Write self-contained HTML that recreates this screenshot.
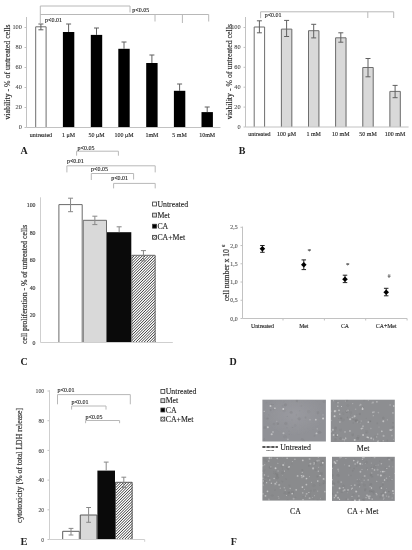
<!DOCTYPE html>
<html><head><meta charset="utf-8"><style>
html,body{margin:0;padding:0;background:#fff;width:412px;height:550px;overflow:hidden}
svg{display:block;font-family:"Liberation Serif",serif;filter:blur(0.45px)}
</style></head><body>
<svg width="412" height="550" viewBox="0 0 412 550">
<defs>
<pattern id="hatch" patternUnits="userSpaceOnUse" width="1.75" height="4" patternTransform="rotate(45)">
<rect width="1.75" height="4" fill="#fff"/><rect x="0" y="0" width="0.85" height="4" fill="#2a2a2a"/></pattern>
<pattern id="hatch2" patternUnits="userSpaceOnUse" width="1.6" height="1.6" patternTransform="rotate(45)">
<rect width="1.6" height="1.6" fill="#fff"/><line x1="0" y1="0" x2="0" y2="1.6" stroke="#333" stroke-width="0.8"/></pattern>
<radialGradient id="glow"><stop offset="0" stop-color="#a0a0a6" stop-opacity="1"/><stop offset="1" stop-color="#a0a0a6" stop-opacity="0"/></radialGradient>
<filter id="soft" x="-5%" y="-5%" width="110%" height="110%"><feGaussianBlur stdDeviation="0.45"/></filter>
<clipPath id="h1"><rect x="131.3" y="255.3" width="24.3" height="87.19999999999999"/></clipPath><clipPath id="h2"><rect x="115.0" y="482.3" width="17.6" height="57.19999999999999"/></clipPath><clipPath id="c262399"><rect x="262.4" y="399.7" width="63.5" height="41.8"/></clipPath><clipPath id="c330399"><rect x="330.8" y="399.7" width="64.0" height="42.3"/></clipPath><clipPath id="c262456"><rect x="262.4" y="456.8" width="63.5" height="43.8"/></clipPath><clipPath id="c332456"><rect x="332.0" y="456.8" width="62.8" height="44.1"/></clipPath>
</defs>
<rect width="412" height="550" fill="#fff"/>
<line x1="24.5" y1="127.5" x2="26.5" y2="127.5" stroke="#c2c2c2" stroke-width="1"/>
<text x="21.9" y="129.3" font-size="6.3" text-anchor="end" font-weight="normal" fill="#505050" stroke="#505050" stroke-width="0.1" >0</text>
<line x1="24.5" y1="107.5" x2="26.5" y2="107.5" stroke="#c2c2c2" stroke-width="1"/>
<text x="21.9" y="109.3" font-size="6.3" text-anchor="end" font-weight="normal" fill="#505050" stroke="#505050" stroke-width="0.1" >20</text>
<line x1="24.5" y1="87.5" x2="26.5" y2="87.5" stroke="#c2c2c2" stroke-width="1"/>
<text x="21.9" y="89.3" font-size="6.3" text-anchor="end" font-weight="normal" fill="#505050" stroke="#505050" stroke-width="0.1" >40</text>
<line x1="24.5" y1="67.5" x2="26.5" y2="67.5" stroke="#c2c2c2" stroke-width="1"/>
<text x="21.9" y="69.3" font-size="6.3" text-anchor="end" font-weight="normal" fill="#505050" stroke="#505050" stroke-width="0.1" >60</text>
<line x1="24.5" y1="47.5" x2="26.5" y2="47.5" stroke="#c2c2c2" stroke-width="1"/>
<text x="21.9" y="49.3" font-size="6.3" text-anchor="end" font-weight="normal" fill="#505050" stroke="#505050" stroke-width="0.1" >80</text>
<line x1="24.5" y1="27.5" x2="26.5" y2="27.5" stroke="#c2c2c2" stroke-width="1"/>
<text x="21.9" y="29.3" font-size="6.3" text-anchor="end" font-weight="normal" fill="#505050" stroke="#505050" stroke-width="0.1" >100</text>
<text x="0" y="0" font-size="7.85" text-anchor="middle" font-weight="normal" fill="#2a2a2a" stroke="#2a2a2a" stroke-width="0.15" dominant-baseline="central" transform="translate(7.4,72.0) rotate(-90)">viability - % of untreated cells</text>
<rect x="35.2" y="26.8" width="11.4" height="100.7" fill="#fff"/>
<path d="M35.70 127.5 V26.80 H46.10 V127.5" fill="none" stroke="#6e6e6e" stroke-width="1"/>
<line x1="40.900000000000006" y1="24" x2="40.900000000000006" y2="29.8" stroke="#606060" stroke-width="1"/>
<line x1="38.400000000000006" y1="24" x2="43.400000000000006" y2="24" stroke="#606060" stroke-width="1"/>
<line x1="38.400000000000006" y1="29.8" x2="43.400000000000006" y2="29.8" stroke="#606060" stroke-width="1"/>
<text x="40.900000000000006" y="136.7" font-size="6" text-anchor="middle" font-weight="normal" fill="#222222" stroke="#222222" stroke-width="0.12" >untreated</text>
<rect x="62.9" y="32.0" width="11.4" height="95.5" fill="#000"/>
<line x1="68.6" y1="24" x2="68.6" y2="32.0" stroke="#606060" stroke-width="1"/>
<line x1="66.1" y1="24" x2="71.1" y2="24" stroke="#606060" stroke-width="1"/>
<text x="68.6" y="136.7" font-size="6" text-anchor="middle" font-weight="normal" fill="#222222" stroke="#222222" stroke-width="0.12" >1 &#956;M</text>
<rect x="90.8" y="34.9" width="11.4" height="92.6" fill="#000"/>
<line x1="96.5" y1="28" x2="96.5" y2="34.9" stroke="#606060" stroke-width="1"/>
<line x1="94.0" y1="28" x2="99.0" y2="28" stroke="#606060" stroke-width="1"/>
<text x="96.5" y="136.7" font-size="6" text-anchor="middle" font-weight="normal" fill="#222222" stroke="#222222" stroke-width="0.12" >50 &#956;M</text>
<rect x="118.3" y="48.8" width="11.4" height="78.7" fill="#000"/>
<line x1="124.0" y1="42" x2="124.0" y2="48.8" stroke="#606060" stroke-width="1"/>
<line x1="121.5" y1="42" x2="126.5" y2="42" stroke="#606060" stroke-width="1"/>
<text x="124.0" y="136.7" font-size="6" text-anchor="middle" font-weight="normal" fill="#222222" stroke="#222222" stroke-width="0.12" >100 &#956;M</text>
<rect x="146.2" y="63.0" width="11.4" height="64.5" fill="#000"/>
<line x1="151.89999999999998" y1="55" x2="151.89999999999998" y2="63.0" stroke="#606060" stroke-width="1"/>
<line x1="149.39999999999998" y1="55" x2="154.39999999999998" y2="55" stroke="#606060" stroke-width="1"/>
<text x="151.89999999999998" y="136.7" font-size="6" text-anchor="middle" font-weight="normal" fill="#222222" stroke="#222222" stroke-width="0.12" >1mM</text>
<rect x="173.9" y="90.8" width="11.4" height="36.7" fill="#000"/>
<line x1="179.6" y1="84" x2="179.6" y2="90.8" stroke="#606060" stroke-width="1"/>
<line x1="177.1" y1="84" x2="182.1" y2="84" stroke="#606060" stroke-width="1"/>
<text x="179.6" y="136.7" font-size="6" text-anchor="middle" font-weight="normal" fill="#222222" stroke="#222222" stroke-width="0.12" >5 mM</text>
<rect x="201.5" y="112.1" width="11.4" height="15.400000000000006" fill="#000"/>
<line x1="207.2" y1="107" x2="207.2" y2="112.1" stroke="#606060" stroke-width="1"/>
<line x1="204.7" y1="107" x2="209.7" y2="107" stroke="#606060" stroke-width="1"/>
<text x="207.2" y="136.7" font-size="6" text-anchor="middle" font-weight="normal" fill="#222222" stroke="#222222" stroke-width="0.12" >10mM</text>
<line x1="26.5" y1="17" x2="26.5" y2="127.5" stroke="#c2c2c2" stroke-width="1"/>
<line x1="26.5" y1="127.5" x2="220.5" y2="127.5" stroke="#c2c2c2" stroke-width="1"/>
<line x1="40.3" y1="6" x2="40.3" y2="23" stroke="#b8b8b8" stroke-width="1"/>
<line x1="40.3" y1="6" x2="130" y2="6" stroke="#b8b8b8" stroke-width="1"/>
<line x1="130" y1="6" x2="130" y2="12.4" stroke="#b8b8b8" stroke-width="1"/>
<line x1="40.3" y1="14.5" x2="208.7" y2="14.5" stroke="#b8b8b8" stroke-width="1"/>
<line x1="155" y1="14.5" x2="155" y2="21.5" stroke="#b8b8b8" stroke-width="1"/>
<line x1="182.4" y1="14.5" x2="182.4" y2="23" stroke="#b8b8b8" stroke-width="1"/>
<line x1="208.7" y1="14.5" x2="208.7" y2="21.5" stroke="#b8b8b8" stroke-width="1"/>
<text x="45" y="21.6" font-size="6" text-anchor="start" font-weight="normal" fill="#222222" stroke="#222222" stroke-width="0.12" >p&lt;0.01</text>
<text x="132.3" y="12.2" font-size="6" text-anchor="start" font-weight="normal" fill="#222222" stroke="#222222" stroke-width="0.12" >p&lt;0.05</text>
<text x="24.1" y="154.2" font-size="10" text-anchor="middle" font-weight="bold" fill="#222" >A</text>
<line x1="243.5" y1="127.0" x2="245.5" y2="127.0" stroke="#c2c2c2" stroke-width="1"/>
<text x="240.6" y="128.8" font-size="6.3" text-anchor="end" font-weight="normal" fill="#505050" stroke="#505050" stroke-width="0.1" >0</text>
<line x1="243.5" y1="107.1" x2="245.5" y2="107.1" stroke="#c2c2c2" stroke-width="1"/>
<text x="240.6" y="108.89999999999999" font-size="6.3" text-anchor="end" font-weight="normal" fill="#505050" stroke="#505050" stroke-width="0.1" >20</text>
<line x1="243.5" y1="87.2" x2="245.5" y2="87.2" stroke="#c2c2c2" stroke-width="1"/>
<text x="240.6" y="89.0" font-size="6.3" text-anchor="end" font-weight="normal" fill="#505050" stroke="#505050" stroke-width="0.1" >40</text>
<line x1="243.5" y1="67.3" x2="245.5" y2="67.3" stroke="#c2c2c2" stroke-width="1"/>
<text x="240.6" y="69.1" font-size="6.3" text-anchor="end" font-weight="normal" fill="#505050" stroke="#505050" stroke-width="0.1" >60</text>
<line x1="243.5" y1="47.400000000000006" x2="245.5" y2="47.400000000000006" stroke="#c2c2c2" stroke-width="1"/>
<text x="240.6" y="49.2" font-size="6.3" text-anchor="end" font-weight="normal" fill="#505050" stroke="#505050" stroke-width="0.1" >80</text>
<line x1="243.5" y1="27.5" x2="245.5" y2="27.5" stroke="#c2c2c2" stroke-width="1"/>
<text x="240.6" y="29.3" font-size="6.3" text-anchor="end" font-weight="normal" fill="#505050" stroke="#505050" stroke-width="0.1" >100</text>
<text x="0" y="0" font-size="7.85" text-anchor="middle" font-weight="normal" fill="#2a2a2a" stroke="#2a2a2a" stroke-width="0.15" dominant-baseline="central" transform="translate(229.3,71.6) rotate(-90)">viability - % of untreated cells</text>
<rect x="253.7" y="27.0" width="11.4" height="100.0" fill="#fff"/>
<path d="M254.20 127.0 V27.00 H264.60 V127.0" fill="none" stroke="#6e6e6e" stroke-width="1"/>
<line x1="259.4" y1="20.8" x2="259.4" y2="32.8" stroke="#606060" stroke-width="1"/>
<line x1="256.9" y1="20.8" x2="261.9" y2="20.8" stroke="#606060" stroke-width="1"/>
<line x1="256.9" y1="32.8" x2="261.9" y2="32.8" stroke="#606060" stroke-width="1"/>
<text x="259.4" y="136.3" font-size="6" text-anchor="middle" font-weight="normal" fill="#222222" stroke="#222222" stroke-width="0.12" >untreated</text>
<rect x="280.9" y="29.1" width="11.4" height="97.9" fill="#d9d9d9"/>
<path d="M281.40 127.0 V29.10 H291.80 V127.0" fill="none" stroke="#6e6e6e" stroke-width="1"/>
<line x1="286.59999999999997" y1="20.4" x2="286.59999999999997" y2="36.5" stroke="#606060" stroke-width="1"/>
<line x1="284.09999999999997" y1="20.4" x2="289.09999999999997" y2="20.4" stroke="#606060" stroke-width="1"/>
<line x1="284.09999999999997" y1="36.5" x2="289.09999999999997" y2="36.5" stroke="#606060" stroke-width="1"/>
<text x="286.59999999999997" y="136.3" font-size="6" text-anchor="middle" font-weight="normal" fill="#222222" stroke="#222222" stroke-width="0.12" >100 &#956;M</text>
<rect x="308.0" y="30.7" width="11.4" height="96.3" fill="#d9d9d9"/>
<path d="M308.50 127.0 V30.70 H318.90 V127.0" fill="none" stroke="#6e6e6e" stroke-width="1"/>
<line x1="313.7" y1="24.3" x2="313.7" y2="37.9" stroke="#606060" stroke-width="1"/>
<line x1="311.2" y1="24.3" x2="316.2" y2="24.3" stroke="#606060" stroke-width="1"/>
<line x1="311.2" y1="37.9" x2="316.2" y2="37.9" stroke="#606060" stroke-width="1"/>
<text x="313.7" y="136.3" font-size="6" text-anchor="middle" font-weight="normal" fill="#222222" stroke="#222222" stroke-width="0.12" >1 mM</text>
<rect x="335.1" y="37.8" width="11.4" height="89.2" fill="#d9d9d9"/>
<path d="M335.60 127.0 V37.80 H346.00 V127.0" fill="none" stroke="#6e6e6e" stroke-width="1"/>
<line x1="340.8" y1="32.8" x2="340.8" y2="42.2" stroke="#606060" stroke-width="1"/>
<line x1="338.3" y1="32.8" x2="343.3" y2="32.8" stroke="#606060" stroke-width="1"/>
<line x1="338.3" y1="42.2" x2="343.3" y2="42.2" stroke="#606060" stroke-width="1"/>
<text x="340.8" y="136.3" font-size="6" text-anchor="middle" font-weight="normal" fill="#222222" stroke="#222222" stroke-width="0.12" >10 mM</text>
<rect x="362.3" y="67.5" width="11.4" height="59.5" fill="#d9d9d9"/>
<path d="M362.80 127.0 V67.50 H373.20 V127.0" fill="none" stroke="#6e6e6e" stroke-width="1"/>
<line x1="368.0" y1="58.5" x2="368.0" y2="76.8" stroke="#606060" stroke-width="1"/>
<line x1="365.5" y1="58.5" x2="370.5" y2="58.5" stroke="#606060" stroke-width="1"/>
<line x1="365.5" y1="76.8" x2="370.5" y2="76.8" stroke="#606060" stroke-width="1"/>
<text x="368.0" y="136.3" font-size="6" text-anchor="middle" font-weight="normal" fill="#222222" stroke="#222222" stroke-width="0.12" >50 mM</text>
<rect x="389.4" y="91.4" width="11.4" height="35.599999999999994" fill="#d9d9d9"/>
<path d="M389.90 127.0 V91.40 H400.30 V127.0" fill="none" stroke="#6e6e6e" stroke-width="1"/>
<line x1="395.09999999999997" y1="85.4" x2="395.09999999999997" y2="97.7" stroke="#606060" stroke-width="1"/>
<line x1="392.59999999999997" y1="85.4" x2="397.59999999999997" y2="85.4" stroke="#606060" stroke-width="1"/>
<line x1="392.59999999999997" y1="97.7" x2="397.59999999999997" y2="97.7" stroke="#606060" stroke-width="1"/>
<text x="395.09999999999997" y="136.3" font-size="6" text-anchor="middle" font-weight="normal" fill="#222222" stroke="#222222" stroke-width="0.12" >100 mM</text>
<line x1="245.5" y1="17" x2="245.5" y2="127.0" stroke="#c2c2c2" stroke-width="1"/>
<line x1="245.5" y1="127.0" x2="408.6" y2="127.0" stroke="#c2c2c2" stroke-width="1"/>
<line x1="260.6" y1="11.8" x2="260.6" y2="18.2" stroke="#b8b8b8" stroke-width="1"/>
<line x1="260.6" y1="11.8" x2="393.7" y2="11.8" stroke="#b8b8b8" stroke-width="1"/>
<line x1="367.8" y1="11.8" x2="367.8" y2="18" stroke="#b8b8b8" stroke-width="1"/>
<line x1="393.7" y1="11.8" x2="393.7" y2="18" stroke="#b8b8b8" stroke-width="1"/>
<text x="264.7" y="17.3" font-size="6" text-anchor="start" font-weight="normal" fill="#222222" stroke="#222222" stroke-width="0.12" >p&lt;0.01</text>
<text x="242" y="154.2" font-size="10" text-anchor="middle" font-weight="bold" fill="#222" >B</text>
<text x="35.5" y="344.6" font-size="5.8" text-anchor="end" font-weight="normal" fill="#3a3a3a" stroke="#3a3a3a" stroke-width="0.15" >0</text>
<text x="35.5" y="317.14000000000004" font-size="5.8" text-anchor="end" font-weight="normal" fill="#3a3a3a" stroke="#3a3a3a" stroke-width="0.15" >20</text>
<text x="35.5" y="289.68" font-size="5.8" text-anchor="end" font-weight="normal" fill="#3a3a3a" stroke="#3a3a3a" stroke-width="0.15" >40</text>
<text x="35.5" y="262.22" font-size="5.8" text-anchor="end" font-weight="normal" fill="#3a3a3a" stroke="#3a3a3a" stroke-width="0.15" >60</text>
<text x="35.5" y="234.76" font-size="5.8" text-anchor="end" font-weight="normal" fill="#3a3a3a" stroke="#3a3a3a" stroke-width="0.15" >80</text>
<text x="35.5" y="207.29999999999998" font-size="5.8" text-anchor="end" font-weight="normal" fill="#3a3a3a" stroke="#3a3a3a" stroke-width="0.15" >100</text>
<text x="0" y="0" font-size="7.7" text-anchor="middle" font-weight="normal" fill="#3a3a3a" stroke="#3a3a3a" stroke-width="0.2" dominant-baseline="central" transform="translate(24.2,284.4) rotate(-90)">cell proliferation - % of untreated cells</text>
<rect x="58.4" y="204.6" width="24.3" height="137.9" fill="#ffffff"/>
<path d="M58.90 342.5 V204.60 H82.20 V342.5" fill="none" stroke="#6a6a6a" stroke-width="1"/>
<line x1="70.55" y1="198.2" x2="70.55" y2="211.7" stroke="#888" stroke-width="1"/>
<line x1="68.05" y1="198.2" x2="73.05" y2="198.2" stroke="#888" stroke-width="1"/>
<line x1="68.05" y1="211.7" x2="73.05" y2="211.7" stroke="#888" stroke-width="1"/>
<rect x="82.7" y="220.3" width="24.3" height="122.19999999999999" fill="#d9d9d9"/>
<path d="M83.20 342.5 V220.30 H106.50 V342.5" fill="none" stroke="#6a6a6a" stroke-width="1"/>
<line x1="94.85000000000001" y1="216.2" x2="94.85000000000001" y2="224.6" stroke="#888" stroke-width="1"/>
<line x1="92.35000000000001" y1="216.2" x2="97.35000000000001" y2="216.2" stroke="#888" stroke-width="1"/>
<line x1="92.35000000000001" y1="224.6" x2="97.35000000000001" y2="224.6" stroke="#888" stroke-width="1"/>
<rect x="107.0" y="232.2" width="24.3" height="110.30000000000001" fill="#0a0a0a"/>
<line x1="119.15" y1="226.8" x2="119.15" y2="232.2" stroke="#888" stroke-width="1"/>
<line x1="116.65" y1="226.8" x2="121.65" y2="226.8" stroke="#888" stroke-width="1"/>
<rect x="131.3" y="255.3" width="24.3" height="87.19999999999999" fill="#fff"/>
<path clip-path="url(#h1)" d="M42.70 344.50L133.90 253.30M45.45 344.50L136.65 253.30M48.20 344.50L139.40 253.30M50.95 344.50L142.15 253.30M53.70 344.50L144.90 253.30M56.45 344.50L147.65 253.30M59.20 344.50L150.40 253.30M61.95 344.50L153.15 253.30M64.70 344.50L155.90 253.30M67.45 344.50L158.65 253.30M70.20 344.50L161.40 253.30M72.95 344.50L164.15 253.30M75.70 344.50L166.90 253.30M78.45 344.50L169.65 253.30M81.20 344.50L172.40 253.30M83.95 344.50L175.15 253.30M86.70 344.50L177.90 253.30M89.45 344.50L180.65 253.30M92.20 344.50L183.40 253.30M94.95 344.50L186.15 253.30M97.70 344.50L188.90 253.30M100.45 344.50L191.65 253.30M103.20 344.50L194.40 253.30M105.95 344.50L197.15 253.30M108.70 344.50L199.90 253.30M111.45 344.50L202.65 253.30M114.20 344.50L205.40 253.30M116.95 344.50L208.15 253.30M119.70 344.50L210.90 253.30M122.45 344.50L213.65 253.30M125.20 344.50L216.40 253.30M127.95 344.50L219.15 253.30M130.70 344.50L221.90 253.30M133.45 344.50L224.65 253.30M136.20 344.50L227.40 253.30M138.95 344.50L230.15 253.30M141.70 344.50L232.90 253.30M144.45 344.50L235.65 253.30M147.20 344.50L238.40 253.30M149.95 344.50L241.15 253.30M152.70 344.50L243.90 253.30M155.45 344.50L246.65 253.30" stroke="#3c3c3c" stroke-width="1.0" fill="none"/>
<path d="M131.80 342.5 V255.30 H155.10 V342.5" fill="none" stroke="#6a6a6a" stroke-width="1"/>
<line x1="143.45000000000002" y1="250.6" x2="143.45000000000002" y2="260.8" stroke="#888" stroke-width="1"/>
<line x1="140.95000000000002" y1="250.6" x2="145.95000000000002" y2="250.6" stroke="#888" stroke-width="1"/>
<line x1="140.95000000000002" y1="260.8" x2="145.95000000000002" y2="260.8" stroke="#888" stroke-width="1"/>
<line x1="40.5" y1="197.3" x2="40.5" y2="342.5" stroke="#cfcfcf" stroke-width="1"/>
<line x1="40.5" y1="342.5" x2="172.8" y2="342.5" stroke="#cfcfcf" stroke-width="1"/>
<line x1="76.6" y1="151.2" x2="118.4" y2="151.2" stroke="#b8b8b8" stroke-width="1"/>
<line x1="76.6" y1="151.2" x2="76.6" y2="155.7" stroke="#b8b8b8" stroke-width="1"/>
<line x1="118.4" y1="151.2" x2="118.4" y2="155.7" stroke="#b8b8b8" stroke-width="1"/>
<text x="77.6" y="150" font-size="6" text-anchor="start" font-weight="normal" fill="#222222" stroke="#222222" stroke-width="0.12" >p&lt;0.05</text>
<line x1="66.9" y1="165.8" x2="155.2" y2="165.8" stroke="#b8b8b8" stroke-width="1"/>
<line x1="66.9" y1="165.8" x2="66.9" y2="172.4" stroke="#b8b8b8" stroke-width="1"/>
<line x1="155.2" y1="165.8" x2="155.2" y2="172.4" stroke="#b8b8b8" stroke-width="1"/>
<text x="66.9" y="163.0" font-size="6" text-anchor="start" font-weight="normal" fill="#222222" stroke="#222222" stroke-width="0.12" >p&lt;0.01</text>
<line x1="91.3" y1="173.5" x2="133.6" y2="173.5" stroke="#b8b8b8" stroke-width="1"/>
<line x1="91.3" y1="173.5" x2="91.3" y2="180.0" stroke="#b8b8b8" stroke-width="1"/>
<line x1="133.6" y1="173.5" x2="133.6" y2="179.5" stroke="#b8b8b8" stroke-width="1"/>
<text x="91" y="171.2" font-size="6" text-anchor="start" font-weight="normal" fill="#222222" stroke="#222222" stroke-width="0.12" >p&lt;0.05</text>
<line x1="113.6" y1="183.4" x2="155.2" y2="183.4" stroke="#b8b8b8" stroke-width="1"/>
<line x1="113.6" y1="183.4" x2="113.6" y2="188.4" stroke="#b8b8b8" stroke-width="1"/>
<line x1="155.2" y1="183.4" x2="155.2" y2="188.4" stroke="#b8b8b8" stroke-width="1"/>
<text x="111.2" y="180.2" font-size="6" text-anchor="start" font-weight="normal" fill="#222222" stroke="#222222" stroke-width="0.12" >p&lt;0.01</text>
<rect x="152.6" y="202.05" width="3.9" height="3.9" fill="#fff" stroke="#333" stroke-width="0.8"/>
<text x="157.39999999999998" y="206.7" font-size="7.8" text-anchor="start" font-weight="normal" fill="#222" stroke="#222" stroke-width="0.12" >Untreated</text>
<rect x="152.6" y="213.15" width="3.9" height="3.9" fill="#d9d9d9" stroke="#333" stroke-width="0.8"/>
<text x="157.39999999999998" y="217.79999999999998" font-size="7.8" text-anchor="start" font-weight="normal" fill="#222" stroke="#222" stroke-width="0.12" >Met</text>
<rect x="152.6" y="224.25" width="3.9" height="3.9" fill="#000" stroke="#333" stroke-width="0.8"/>
<text x="157.39999999999998" y="228.89999999999998" font-size="7.8" text-anchor="start" font-weight="normal" fill="#222" stroke="#222" stroke-width="0.12" >CA</text>
<rect x="152.6" y="235.35000000000002" width="3.9" height="3.9" fill="url(#hatch2)" stroke="#333" stroke-width="0.8"/>
<text x="157.39999999999998" y="240.0" font-size="7.8" text-anchor="start" font-weight="normal" fill="#222" stroke="#222" stroke-width="0.12" >CA+Met</text>
<text x="24.0" y="364.6" font-size="10" text-anchor="middle" font-weight="bold" fill="#222" >C</text>
<line x1="242.5" y1="226.6" x2="242.5" y2="318.5" stroke="#c2c2c2" stroke-width="1"/>
<line x1="242.5" y1="318.5" x2="407.1" y2="318.5" stroke="#c2c2c2" stroke-width="1"/>
<line x1="240.5" y1="318.5" x2="242.5" y2="318.5" stroke="#c2c2c2" stroke-width="1"/>
<text x="237.6" y="320.6" font-size="5.8" text-anchor="end" font-weight="normal" fill="#505050" stroke="#505050" stroke-width="0.1" >0,0</text>
<line x1="240.5" y1="300.26" x2="242.5" y2="300.26" stroke="#c2c2c2" stroke-width="1"/>
<text x="237.6" y="302.36" font-size="5.8" text-anchor="end" font-weight="normal" fill="#505050" stroke="#505050" stroke-width="0.1" >0,5</text>
<line x1="240.5" y1="282.02" x2="242.5" y2="282.02" stroke="#c2c2c2" stroke-width="1"/>
<text x="237.6" y="284.12" font-size="5.8" text-anchor="end" font-weight="normal" fill="#505050" stroke="#505050" stroke-width="0.1" >1,0</text>
<line x1="240.5" y1="263.78000000000003" x2="242.5" y2="263.78000000000003" stroke="#c2c2c2" stroke-width="1"/>
<text x="237.6" y="265.88000000000005" font-size="5.8" text-anchor="end" font-weight="normal" fill="#505050" stroke="#505050" stroke-width="0.1" >1,5</text>
<line x1="240.5" y1="245.54000000000002" x2="242.5" y2="245.54000000000002" stroke="#c2c2c2" stroke-width="1"/>
<text x="237.6" y="247.64000000000001" font-size="5.8" text-anchor="end" font-weight="normal" fill="#505050" stroke="#505050" stroke-width="0.1" >2,0</text>
<line x1="240.5" y1="227.3" x2="242.5" y2="227.3" stroke="#c2c2c2" stroke-width="1"/>
<text x="237.6" y="229.4" font-size="5.8" text-anchor="end" font-weight="normal" fill="#505050" stroke="#505050" stroke-width="0.1" >2,5</text>
<line x1="283" y1="318.5" x2="283" y2="320.5" stroke="#c2c2c2" stroke-width="1"/>
<line x1="324.4" y1="318.5" x2="324.4" y2="320.5" stroke="#c2c2c2" stroke-width="1"/>
<line x1="365.7" y1="318.5" x2="365.7" y2="320.5" stroke="#c2c2c2" stroke-width="1"/>
<line x1="407.1" y1="318.5" x2="407.1" y2="320.5" stroke="#c2c2c2" stroke-width="1"/>
<text x="0" y="0" font-size="7.75" text-anchor="middle" font-weight="normal" fill="#333" stroke="#333" stroke-width="0.2" dominant-baseline="central" transform="translate(226.0,273.0) rotate(-90)">cell number x 10 <tspan font-size="4.8" dy="-2.6">6</tspan></text>
<line x1="262.4" y1="245.5" x2="262.4" y2="252.3" stroke="#222" stroke-width="1"/>
<line x1="260.15" y1="245.5" x2="264.65" y2="245.5" stroke="#222" stroke-width="1"/>
<line x1="260.15" y1="252.3" x2="264.65" y2="252.3" stroke="#222" stroke-width="1"/>
<path d="M262.4 246.0 L265.2 248.8 L262.4 251.60000000000002 L259.59999999999997 248.8 Z" fill="#000"/>
<text x="262.4" y="327.9" font-size="5.8" text-anchor="middle" font-weight="normal" fill="#222222" stroke="#222222" stroke-width="0.12" >Untreated</text>
<line x1="303.8" y1="259.9" x2="303.8" y2="269.6" stroke="#222" stroke-width="1"/>
<line x1="301.55" y1="259.9" x2="306.05" y2="259.9" stroke="#222" stroke-width="1"/>
<line x1="301.55" y1="269.6" x2="306.05" y2="269.6" stroke="#222" stroke-width="1"/>
<path d="M303.8 262.0 L306.6 264.8 L303.8 267.6 L301.0 264.8 Z" fill="#000"/>
<text x="303.8" y="327.9" font-size="5.8" text-anchor="middle" font-weight="normal" fill="#222222" stroke="#222222" stroke-width="0.12" >Met</text>
<line x1="345.0" y1="275.2" x2="345.0" y2="282.6" stroke="#222" stroke-width="1"/>
<line x1="342.75" y1="275.2" x2="347.25" y2="275.2" stroke="#222" stroke-width="1"/>
<line x1="342.75" y1="282.6" x2="347.25" y2="282.6" stroke="#222" stroke-width="1"/>
<path d="M345.0 276.5 L347.8 279.3 L345.0 282.1 L342.2 279.3 Z" fill="#000"/>
<text x="345.0" y="327.9" font-size="5.8" text-anchor="middle" font-weight="normal" fill="#222222" stroke="#222222" stroke-width="0.12" >CA</text>
<line x1="386.2" y1="288.3" x2="386.2" y2="295.8" stroke="#222" stroke-width="1"/>
<line x1="383.95" y1="288.3" x2="388.45" y2="288.3" stroke="#222" stroke-width="1"/>
<line x1="383.95" y1="295.8" x2="388.45" y2="295.8" stroke="#222" stroke-width="1"/>
<path d="M386.2 289.4 L389.0 292.2 L386.2 295.0 L383.4 292.2 Z" fill="#000"/>
<text x="386.2" y="327.9" font-size="5.8" text-anchor="middle" font-weight="normal" fill="#222222" stroke="#222222" stroke-width="0.12" >CA+Met</text>
<text x="309.3" y="252.6" font-size="7" text-anchor="middle" font-weight="normal" fill="#444" stroke="#444" stroke-width="0.12" >*</text>
<text x="347.8" y="267.4" font-size="7" text-anchor="middle" font-weight="normal" fill="#444" stroke="#444" stroke-width="0.12" >*</text>
<text x="389" y="277.9" font-size="5.5" text-anchor="middle" font-weight="normal" fill="#666" stroke="#666" stroke-width="0.12" >#</text>
<text x="233.1" y="364.5" font-size="10" text-anchor="middle" font-weight="bold" fill="#222" >D</text>
<line x1="47.5" y1="539.5" x2="49.5" y2="539.5" stroke="#c2c2c2" stroke-width="1"/>
<text x="44.2" y="541.6" font-size="5.8" text-anchor="end" font-weight="normal" fill="#505050" stroke="#505050" stroke-width="0.1" >0</text>
<line x1="47.5" y1="509.8" x2="49.5" y2="509.8" stroke="#c2c2c2" stroke-width="1"/>
<text x="44.2" y="511.90000000000003" font-size="5.8" text-anchor="end" font-weight="normal" fill="#505050" stroke="#505050" stroke-width="0.1" >20</text>
<line x1="47.5" y1="480.1" x2="49.5" y2="480.1" stroke="#c2c2c2" stroke-width="1"/>
<text x="44.2" y="482.20000000000005" font-size="5.8" text-anchor="end" font-weight="normal" fill="#505050" stroke="#505050" stroke-width="0.1" >40</text>
<line x1="47.5" y1="450.4" x2="49.5" y2="450.4" stroke="#c2c2c2" stroke-width="1"/>
<text x="44.2" y="452.5" font-size="5.8" text-anchor="end" font-weight="normal" fill="#505050" stroke="#505050" stroke-width="0.1" >60</text>
<line x1="47.5" y1="420.7" x2="49.5" y2="420.7" stroke="#c2c2c2" stroke-width="1"/>
<text x="44.2" y="422.8" font-size="5.8" text-anchor="end" font-weight="normal" fill="#505050" stroke="#505050" stroke-width="0.1" >80</text>
<line x1="47.5" y1="391.0" x2="49.5" y2="391.0" stroke="#c2c2c2" stroke-width="1"/>
<text x="44.2" y="393.1" font-size="5.8" text-anchor="end" font-weight="normal" fill="#505050" stroke="#505050" stroke-width="0.1" >100</text>
<text x="0" y="0" font-size="7.7" text-anchor="middle" font-weight="normal" fill="#3a3a3a" stroke="#3a3a3a" stroke-width="0.2" dominant-baseline="central" transform="translate(19.2,465.5) rotate(-90)">cytotoxicity [% of total LDH release]</text>
<rect x="62.2" y="531.3" width="17.6" height="8.200000000000045" fill="#ffffff"/>
<path d="M62.70 539.5 V531.30 H79.30 V539.5" fill="none" stroke="#5a5a5a" stroke-width="1"/>
<line x1="71.0" y1="528.4" x2="71.0" y2="535.0" stroke="#888" stroke-width="1"/>
<line x1="68.6" y1="528.4" x2="73.4" y2="528.4" stroke="#888" stroke-width="1"/>
<line x1="68.6" y1="535.0" x2="73.4" y2="535.0" stroke="#888" stroke-width="1"/>
<rect x="79.8" y="515.0" width="17.6" height="24.5" fill="#d9d9d9"/>
<path d="M80.30 539.5 V515.00 H96.90 V539.5" fill="none" stroke="#5a5a5a" stroke-width="1"/>
<line x1="88.6" y1="507.5" x2="88.6" y2="522.3" stroke="#888" stroke-width="1"/>
<line x1="86.19999999999999" y1="507.5" x2="91.0" y2="507.5" stroke="#888" stroke-width="1"/>
<line x1="86.19999999999999" y1="522.3" x2="91.0" y2="522.3" stroke="#888" stroke-width="1"/>
<rect x="97.4" y="470.6" width="17.6" height="68.89999999999998" fill="#0a0a0a"/>
<line x1="106.2" y1="462.1" x2="106.2" y2="470.6" stroke="#888" stroke-width="1"/>
<line x1="103.8" y1="462.1" x2="108.60000000000001" y2="462.1" stroke="#888" stroke-width="1"/>
<rect x="115.0" y="482.3" width="17.6" height="57.19999999999999" fill="#fff"/>
<path clip-path="url(#h2)" d="M56.40 541.50L117.60 480.30M59.15 541.50L120.35 480.30M61.90 541.50L123.10 480.30M64.65 541.50L125.85 480.30M67.40 541.50L128.60 480.30M70.15 541.50L131.35 480.30M72.90 541.50L134.10 480.30M75.65 541.50L136.85 480.30M78.40 541.50L139.60 480.30M81.15 541.50L142.35 480.30M83.90 541.50L145.10 480.30M86.65 541.50L147.85 480.30M89.40 541.50L150.60 480.30M92.15 541.50L153.35 480.30M94.90 541.50L156.10 480.30M97.65 541.50L158.85 480.30M100.40 541.50L161.60 480.30M103.15 541.50L164.35 480.30M105.90 541.50L167.10 480.30M108.65 541.50L169.85 480.30M111.40 541.50L172.60 480.30M114.15 541.50L175.35 480.30M116.90 541.50L178.10 480.30M119.65 541.50L180.85 480.30M122.40 541.50L183.60 480.30M125.15 541.50L186.35 480.30M127.90 541.50L189.10 480.30M130.65 541.50L191.85 480.30" stroke="#3c3c3c" stroke-width="1.0" fill="none"/>
<path d="M115.50 539.5 V482.30 H132.10 V539.5" fill="none" stroke="#5a5a5a" stroke-width="1"/>
<line x1="123.8" y1="477.2" x2="123.8" y2="487.6" stroke="#888" stroke-width="1"/>
<line x1="121.39999999999999" y1="477.2" x2="126.2" y2="477.2" stroke="#888" stroke-width="1"/>
<line x1="121.39999999999999" y1="487.6" x2="126.2" y2="487.6" stroke="#888" stroke-width="1"/>
<line x1="49.5" y1="390.2" x2="49.5" y2="539.5" stroke="#cfcfcf" stroke-width="1"/>
<line x1="49.5" y1="539.5" x2="144.7" y2="539.5" stroke="#cfcfcf" stroke-width="1"/>
<line x1="144.7" y1="539.5" x2="144.7" y2="541.8" stroke="#cfcfcf" stroke-width="1"/>
<line x1="57.5" y1="394.6" x2="130.3" y2="394.6" stroke="#b8b8b8" stroke-width="1"/>
<line x1="57.5" y1="394.6" x2="57.5" y2="404.3" stroke="#b8b8b8" stroke-width="1"/>
<line x1="130.3" y1="394.6" x2="130.3" y2="404.3" stroke="#b8b8b8" stroke-width="1"/>
<text x="57.5" y="392.0" font-size="6" text-anchor="start" font-weight="normal" fill="#222222" stroke="#222222" stroke-width="0.12" >p&lt;0.01</text>
<line x1="71.6" y1="406.0" x2="106.0" y2="406.0" stroke="#b8b8b8" stroke-width="1"/>
<line x1="71.6" y1="406.0" x2="71.6" y2="409.6" stroke="#b8b8b8" stroke-width="1"/>
<line x1="106.0" y1="406.0" x2="106.0" y2="409.6" stroke="#b8b8b8" stroke-width="1"/>
<text x="71.6" y="404.0" font-size="6" text-anchor="start" font-weight="normal" fill="#222222" stroke="#222222" stroke-width="0.12" >p&lt;0.01</text>
<line x1="85.6" y1="420.5" x2="119.6" y2="420.5" stroke="#b8b8b8" stroke-width="1"/>
<line x1="85.6" y1="420.5" x2="85.6" y2="423.2" stroke="#b8b8b8" stroke-width="1"/>
<line x1="119.6" y1="420.5" x2="119.6" y2="423.2" stroke="#b8b8b8" stroke-width="1"/>
<text x="85.6" y="419.0" font-size="6" text-anchor="start" font-weight="normal" fill="#222222" stroke="#222222" stroke-width="0.12" >p&lt;0.05</text>
<rect x="160.9" y="389.45" width="3.9" height="3.9" fill="#fff" stroke="#333" stroke-width="0.8"/>
<text x="165.7" y="394.09999999999997" font-size="7.8" text-anchor="start" font-weight="normal" fill="#222" stroke="#222" stroke-width="0.12" >Untreated</text>
<rect x="160.9" y="398.75" width="3.9" height="3.9" fill="#d9d9d9" stroke="#333" stroke-width="0.8"/>
<text x="165.7" y="403.4" font-size="7.8" text-anchor="start" font-weight="normal" fill="#222" stroke="#222" stroke-width="0.12" >Met</text>
<rect x="160.9" y="408.05" width="3.9" height="3.9" fill="#000" stroke="#333" stroke-width="0.8"/>
<text x="165.7" y="412.7" font-size="7.8" text-anchor="start" font-weight="normal" fill="#222" stroke="#222" stroke-width="0.12" >CA</text>
<rect x="160.9" y="417.15000000000003" width="3.9" height="3.9" fill="url(#hatch2)" stroke="#333" stroke-width="0.8"/>
<text x="165.7" y="421.8" font-size="7.8" text-anchor="start" font-weight="normal" fill="#222" stroke="#222" stroke-width="0.12" >CA+Met</text>
<text x="24.0" y="545.0" font-size="10.5" text-anchor="middle" font-weight="bold" fill="#222" >E</text>
<rect x="262.4" y="399.7" width="63.5" height="41.8" fill="#909196"/>
<g clip-path="url(#c262399)" filter="url(#soft)">
<ellipse cx="294" cy="414" rx="30" ry="21.0" fill="url(#glow)" fill-opacity="0.6"/>
<circle cx="283.0" cy="406.0" r="1.38" fill="#555" fill-opacity="0.06"/>
<circle cx="296.4" cy="415.0" r="0.67" fill="#555" fill-opacity="0.10"/>
<circle cx="264.8" cy="417.8" r="0.68" fill="#555" fill-opacity="0.06"/>
<circle cx="289.4" cy="434.3" r="0.75" fill="#555" fill-opacity="0.07"/>
<circle cx="302.2" cy="439.3" r="1.29" fill="#555" fill-opacity="0.09"/>
<circle cx="324.4" cy="401.6" r="1.63" fill="#555" fill-opacity="0.08"/>
<circle cx="271.6" cy="404.6" r="0.97" fill="#555" fill-opacity="0.13"/>
<circle cx="273.9" cy="424.0" r="1.37" fill="#555" fill-opacity="0.09"/>
<circle cx="297.2" cy="402.3" r="0.67" fill="#555" fill-opacity="0.07"/>
<circle cx="305.6" cy="417.6" r="0.98" fill="#555" fill-opacity="0.11"/>
<circle cx="291.2" cy="412.2" r="1.55" fill="#555" fill-opacity="0.12"/>
<circle cx="277.9" cy="423.7" r="1.23" fill="#555" fill-opacity="0.14"/>
<circle cx="308.7" cy="411.7" r="1.78" fill="#555" fill-opacity="0.06"/>
<circle cx="289.0" cy="431.3" r="0.78" fill="#555" fill-opacity="0.10"/>
<circle cx="264.9" cy="427.6" r="1.52" fill="#555" fill-opacity="0.11"/>
<circle cx="318.0" cy="412.8" r="1.43" fill="#555" fill-opacity="0.11"/>
<circle cx="299.2" cy="418.8" r="1.61" fill="#555" fill-opacity="0.14"/>
<circle cx="292.5" cy="427.5" r="0.67" fill="#555" fill-opacity="0.12"/>
<circle cx="303.5" cy="441.2" r="1.59" fill="#555" fill-opacity="0.08"/>
<circle cx="286.9" cy="427.6" r="0.63" fill="#555" fill-opacity="0.10"/>
<circle cx="273.1" cy="404.6" r="0.67" fill="#555" fill-opacity="0.13"/>
<circle cx="270.6" cy="410.1" r="1.07" fill="#555" fill-opacity="0.14"/>
<circle cx="267.5" cy="418.5" r="1.26" fill="#555" fill-opacity="0.14"/>
<circle cx="314.4" cy="435.8" r="0.93" fill="#555" fill-opacity="0.09"/>
<circle cx="285.2" cy="436.7" r="1.75" fill="#555" fill-opacity="0.07"/>
<circle cx="273.6" cy="409.4" r="0.88" fill="#555" fill-opacity="0.10"/>
<circle cx="299.8" cy="410.7" r="0.60" fill="#555" fill-opacity="0.09"/>
<circle cx="285.8" cy="423.4" r="1.74" fill="#555" fill-opacity="0.12"/>
<circle cx="295.1" cy="425.5" r="1.41" fill="#555" fill-opacity="0.06"/>
<circle cx="319.5" cy="432.3" r="1.65" fill="#555" fill-opacity="0.13"/>
<circle cx="287.3" cy="416.4" r="0.72" fill="#555" fill-opacity="0.11"/>
<circle cx="266.4" cy="402.5" r="0.85" fill="#555" fill-opacity="0.07"/>
<circle cx="284.0" cy="401.9" r="0.60" fill="#555" fill-opacity="0.07"/>
<circle cx="268.8" cy="414.9" r="0.63" fill="#555" fill-opacity="0.14"/>
<circle cx="301.4" cy="405.9" r="0.90" fill="#555" fill-opacity="0.08"/>
<circle cx="285.5" cy="404.8" r="1.62" fill="#555" fill-opacity="0.15"/>
<circle cx="292.0" cy="419.9" r="0.70" fill="#555" fill-opacity="0.06"/>
<circle cx="284.2" cy="410.8" r="1.59" fill="#555" fill-opacity="0.07"/>
<circle cx="263.9" cy="439.5" r="1.23" fill="#555" fill-opacity="0.06"/>
<circle cx="296.9" cy="400.8" r="1.23" fill="#555" fill-opacity="0.15"/>
<circle cx="317.2" cy="428.8" r="0.61" fill="#e6e6e6" fill-opacity="0.42"/>
<circle cx="273.0" cy="432.0" r="0.77" fill="#e6e6e6" fill-opacity="0.60"/>
<circle cx="283.3" cy="409.0" r="0.94" fill="#e6e6e6" fill-opacity="0.69"/>
<circle cx="316.5" cy="433.4" r="0.94" fill="#e6e6e6" fill-opacity="0.58"/>
<circle cx="276.8" cy="421.3" r="0.66" fill="#e6e6e6" fill-opacity="0.26"/>
<circle cx="264.2" cy="411.4" r="0.61" fill="#e6e6e6" fill-opacity="0.56"/>
<circle cx="323.1" cy="418.4" r="1.01" fill="#e6e6e6" fill-opacity="0.69"/>
<circle cx="323.0" cy="414.9" r="0.58" fill="#e6e6e6" fill-opacity="0.35"/>
<circle cx="274.9" cy="408.2" r="0.82" fill="#e6e6e6" fill-opacity="0.66"/>
<circle cx="315.8" cy="419.7" r="0.84" fill="#e6e6e6" fill-opacity="0.61"/>
<circle cx="267.8" cy="427.3" r="1.00" fill="#e6e6e6" fill-opacity="0.60"/>
<circle cx="310.0" cy="419.7" r="0.56" fill="#e6e6e6" fill-opacity="0.61"/>
<circle cx="283.5" cy="433.2" r="1.03" fill="#e6e6e6" fill-opacity="0.43"/>
<circle cx="287.9" cy="439.3" r="0.88" fill="#e6e6e6" fill-opacity="0.33"/>
<circle cx="270.5" cy="406.0" r="0.99" fill="#e6e6e6" fill-opacity="0.61"/>
<circle cx="271.7" cy="434.2" r="1.04" fill="#e6e6e6" fill-opacity="0.55"/>
</g>
<rect x="330.8" y="399.7" width="64.0" height="42.3" fill="#8d8e91"/>
<g clip-path="url(#c330399)" filter="url(#soft)">
<circle cx="353.2" cy="422.9" r="0.76" fill="#555" fill-opacity="0.05"/>
<circle cx="392.9" cy="427.2" r="1.23" fill="#555" fill-opacity="0.14"/>
<circle cx="358.6" cy="436.6" r="1.59" fill="#555" fill-opacity="0.07"/>
<circle cx="346.9" cy="412.1" r="0.89" fill="#555" fill-opacity="0.11"/>
<circle cx="347.4" cy="417.4" r="0.76" fill="#555" fill-opacity="0.14"/>
<circle cx="353.4" cy="419.1" r="1.30" fill="#555" fill-opacity="0.14"/>
<circle cx="357.7" cy="438.5" r="1.20" fill="#555" fill-opacity="0.10"/>
<circle cx="364.3" cy="400.5" r="1.13" fill="#555" fill-opacity="0.07"/>
<circle cx="331.1" cy="433.5" r="0.81" fill="#555" fill-opacity="0.10"/>
<circle cx="377.2" cy="423.2" r="0.99" fill="#555" fill-opacity="0.10"/>
<circle cx="366.3" cy="432.9" r="0.73" fill="#555" fill-opacity="0.11"/>
<circle cx="346.7" cy="411.4" r="1.53" fill="#555" fill-opacity="0.10"/>
<circle cx="366.8" cy="431.8" r="1.69" fill="#555" fill-opacity="0.09"/>
<circle cx="370.0" cy="421.1" r="1.21" fill="#555" fill-opacity="0.12"/>
<circle cx="359.8" cy="422.3" r="1.17" fill="#555" fill-opacity="0.14"/>
<circle cx="375.5" cy="436.8" r="1.73" fill="#555" fill-opacity="0.08"/>
<circle cx="366.6" cy="439.6" r="1.61" fill="#555" fill-opacity="0.06"/>
<circle cx="338.6" cy="418.4" r="0.69" fill="#555" fill-opacity="0.07"/>
<circle cx="335.5" cy="428.0" r="1.54" fill="#555" fill-opacity="0.14"/>
<circle cx="340.7" cy="430.0" r="1.39" fill="#555" fill-opacity="0.06"/>
<circle cx="387.3" cy="440.6" r="0.86" fill="#555" fill-opacity="0.15"/>
<circle cx="356.3" cy="420.3" r="1.79" fill="#555" fill-opacity="0.13"/>
<circle cx="341.1" cy="418.0" r="1.22" fill="#555" fill-opacity="0.08"/>
<circle cx="343.3" cy="413.2" r="1.47" fill="#555" fill-opacity="0.05"/>
<circle cx="366.3" cy="418.3" r="0.62" fill="#555" fill-opacity="0.08"/>
<circle cx="370.7" cy="421.4" r="0.68" fill="#555" fill-opacity="0.15"/>
<circle cx="381.3" cy="440.8" r="0.73" fill="#555" fill-opacity="0.08"/>
<circle cx="333.3" cy="432.7" r="0.92" fill="#555" fill-opacity="0.06"/>
<circle cx="357.8" cy="438.3" r="1.58" fill="#555" fill-opacity="0.08"/>
<circle cx="340.4" cy="438.6" r="1.28" fill="#555" fill-opacity="0.12"/>
<circle cx="336.5" cy="402.1" r="1.43" fill="#555" fill-opacity="0.09"/>
<circle cx="335.4" cy="439.4" r="1.36" fill="#555" fill-opacity="0.13"/>
<circle cx="336.2" cy="435.9" r="0.68" fill="#555" fill-opacity="0.14"/>
<circle cx="359.8" cy="414.0" r="1.26" fill="#555" fill-opacity="0.14"/>
<circle cx="347.9" cy="405.2" r="1.23" fill="#555" fill-opacity="0.07"/>
<circle cx="337.8" cy="406.5" r="0.66" fill="#555" fill-opacity="0.07"/>
<circle cx="350.8" cy="412.6" r="1.51" fill="#555" fill-opacity="0.08"/>
<circle cx="362.8" cy="407.2" r="1.02" fill="#555" fill-opacity="0.05"/>
<circle cx="346.8" cy="400.3" r="1.48" fill="#555" fill-opacity="0.11"/>
<circle cx="342.9" cy="419.8" r="1.72" fill="#555" fill-opacity="0.06"/>
<circle cx="383.2" cy="418.0" r="1.19" fill="#555" fill-opacity="0.13"/>
<circle cx="356.0" cy="421.1" r="1.43" fill="#555" fill-opacity="0.15"/>
<circle cx="352.7" cy="434.9" r="1.45" fill="#555" fill-opacity="0.11"/>
<circle cx="356.7" cy="414.4" r="0.67" fill="#555" fill-opacity="0.06"/>
<circle cx="335.3" cy="431.0" r="0.91" fill="#555" fill-opacity="0.07"/>
<circle cx="336.2" cy="435.3" r="1.64" fill="#555" fill-opacity="0.12"/>
<circle cx="348.8" cy="409.9" r="0.95" fill="#555" fill-opacity="0.10"/>
<circle cx="340.9" cy="418.6" r="0.92" fill="#555" fill-opacity="0.15"/>
<circle cx="393.0" cy="422.8" r="0.89" fill="#555" fill-opacity="0.15"/>
<circle cx="350.6" cy="414.8" r="0.60" fill="#555" fill-opacity="0.09"/>
<circle cx="361.2" cy="421.0" r="0.57" fill="#e6e6e6" fill-opacity="0.48"/>
<circle cx="331.1" cy="410.9" r="0.50" fill="#e6e6e6" fill-opacity="0.43"/>
<circle cx="333.5" cy="400.7" r="0.63" fill="#e6e6e6" fill-opacity="0.35"/>
<circle cx="368.3" cy="422.1" r="0.90" fill="#e6e6e6" fill-opacity="0.55"/>
<circle cx="376.6" cy="436.9" r="0.68" fill="#e6e6e6" fill-opacity="0.40"/>
<circle cx="393.8" cy="406.0" r="0.88" fill="#e6e6e6" fill-opacity="0.54"/>
<circle cx="333.6" cy="435.0" r="0.99" fill="#e6e6e6" fill-opacity="0.53"/>
<circle cx="377.8" cy="434.1" r="0.53" fill="#e6e6e6" fill-opacity="0.49"/>
<circle cx="363.1" cy="435.0" r="0.93" fill="#e6e6e6" fill-opacity="0.62"/>
<circle cx="368.2" cy="437.5" r="0.86" fill="#e6e6e6" fill-opacity="0.56"/>
<circle cx="345.5" cy="401.0" r="0.53" fill="#e6e6e6" fill-opacity="0.41"/>
<circle cx="337.5" cy="435.1" r="0.79" fill="#e6e6e6" fill-opacity="0.53"/>
<circle cx="370.9" cy="428.5" r="0.74" fill="#e6e6e6" fill-opacity="0.25"/>
<circle cx="381.9" cy="431.4" r="0.75" fill="#e6e6e6" fill-opacity="0.49"/>
<circle cx="373.0" cy="402.5" r="0.89" fill="#e6e6e6" fill-opacity="0.36"/>
<circle cx="335.6" cy="410.9" r="0.89" fill="#e6e6e6" fill-opacity="0.34"/>
<circle cx="378.1" cy="441.0" r="0.75" fill="#e6e6e6" fill-opacity="0.42"/>
<circle cx="361.5" cy="428.6" r="0.91" fill="#e6e6e6" fill-opacity="0.53"/>
<circle cx="371.9" cy="403.0" r="0.54" fill="#e6e6e6" fill-opacity="0.36"/>
<circle cx="378.4" cy="412.6" r="0.79" fill="#e6e6e6" fill-opacity="0.26"/>
<circle cx="334.7" cy="411.1" r="0.85" fill="#e6e6e6" fill-opacity="0.56"/>
<circle cx="374.0" cy="412.0" r="0.76" fill="#e6e6e6" fill-opacity="0.46"/>
<circle cx="360.6" cy="404.7" r="0.99" fill="#e6e6e6" fill-opacity="0.34"/>
<circle cx="393.4" cy="439.3" r="0.46" fill="#e6e6e6" fill-opacity="0.46"/>
<circle cx="383.3" cy="440.7" r="0.72" fill="#e6e6e6" fill-opacity="0.37"/>
<circle cx="344.2" cy="439.7" r="0.58" fill="#e6e6e6" fill-opacity="0.51"/>
<circle cx="339.9" cy="421.9" r="1.02" fill="#e6e6e6" fill-opacity="0.31"/>
<circle cx="383.3" cy="421.2" r="0.98" fill="#e6e6e6" fill-opacity="0.57"/>
<circle cx="345.6" cy="437.7" r="0.74" fill="#e6e6e6" fill-opacity="0.26"/>
<circle cx="331.0" cy="420.5" r="0.72" fill="#e6e6e6" fill-opacity="0.39"/>
<circle cx="339.8" cy="414.2" r="0.64" fill="#e6e6e6" fill-opacity="0.63"/>
<circle cx="330.9" cy="431.5" r="0.95" fill="#e6e6e6" fill-opacity="0.30"/>
<circle cx="390.1" cy="429.9" r="0.99" fill="#e6e6e6" fill-opacity="0.38"/>
<circle cx="354.6" cy="416.3" r="1.05" fill="#e6e6e6" fill-opacity="0.52"/>
<circle cx="353.9" cy="417.8" r="0.62" fill="#e6e6e6" fill-opacity="0.27"/>
<circle cx="337.3" cy="435.0" r="0.62" fill="#e6e6e6" fill-opacity="0.67"/>
<circle cx="346.8" cy="410.9" r="0.76" fill="#e6e6e6" fill-opacity="0.34"/>
<circle cx="354.7" cy="440.1" r="0.98" fill="#e6e6e6" fill-opacity="0.62"/>
<circle cx="371.2" cy="438.3" r="1.01" fill="#e6e6e6" fill-opacity="0.50"/>
<circle cx="376.9" cy="401.8" r="0.89" fill="#e6e6e6" fill-opacity="0.45"/>
<circle cx="379.0" cy="427.0" r="0.62" fill="#e6e6e6" fill-opacity="0.27"/>
<circle cx="390.1" cy="405.1" r="0.73" fill="#e6e6e6" fill-opacity="0.40"/>
<circle cx="349.9" cy="431.0" r="1.04" fill="#e6e6e6" fill-opacity="0.37"/>
<circle cx="372.8" cy="412.4" r="0.78" fill="#e6e6e6" fill-opacity="0.43"/>
<circle cx="341.5" cy="406.5" r="0.57" fill="#e6e6e6" fill-opacity="0.66"/>
<circle cx="362.6" cy="409.0" r="0.99" fill="#e6e6e6" fill-opacity="0.70"/>
<circle cx="359.6" cy="405.6" r="0.57" fill="#e6e6e6" fill-opacity="0.29"/>
<circle cx="352.7" cy="403.6" r="0.59" fill="#e6e6e6" fill-opacity="0.37"/>
<circle cx="367.3" cy="437.2" r="0.90" fill="#e6e6e6" fill-opacity="0.44"/>
<circle cx="357.3" cy="421.9" r="0.68" fill="#e6e6e6" fill-opacity="0.40"/>
<circle cx="334.8" cy="411.4" r="1.03" fill="#e6e6e6" fill-opacity="0.31"/>
<circle cx="363.0" cy="426.3" r="0.97" fill="#e6e6e6" fill-opacity="0.35"/>
<circle cx="348.1" cy="410.2" r="0.69" fill="#e6e6e6" fill-opacity="0.45"/>
<circle cx="391.9" cy="435.6" r="0.97" fill="#e6e6e6" fill-opacity="0.26"/>
<circle cx="332.9" cy="429.7" r="0.99" fill="#e6e6e6" fill-opacity="0.46"/>
<circle cx="368.4" cy="399.7" r="0.68" fill="#e6e6e6" fill-opacity="0.67"/>
<circle cx="383.6" cy="435.9" r="1.03" fill="#e6e6e6" fill-opacity="0.36"/>
<circle cx="337.8" cy="406.2" r="0.76" fill="#e6e6e6" fill-opacity="0.56"/>
<circle cx="391.1" cy="430.2" r="0.84" fill="#e6e6e6" fill-opacity="0.59"/>
<circle cx="360.1" cy="423.0" r="0.47" fill="#e6e6e6" fill-opacity="0.60"/>
<circle cx="345.7" cy="438.6" r="0.84" fill="#e6e6e6" fill-opacity="0.39"/>
<circle cx="339.0" cy="410.4" r="0.83" fill="#e6e6e6" fill-opacity="0.56"/>
<circle cx="338.0" cy="402.7" r="0.76" fill="#e6e6e6" fill-opacity="0.51"/>
<circle cx="355.6" cy="409.2" r="0.81" fill="#e6e6e6" fill-opacity="0.25"/>
<circle cx="350.1" cy="419.2" r="1.03" fill="#e6e6e6" fill-opacity="0.54"/>
<circle cx="387.4" cy="419.8" r="0.59" fill="#e6e6e6" fill-opacity="0.36"/>
<circle cx="392.3" cy="429.5" r="0.63" fill="#e6e6e6" fill-opacity="0.26"/>
<circle cx="362.7" cy="428.2" r="0.70" fill="#e6e6e6" fill-opacity="0.37"/>
<circle cx="373.5" cy="438.8" r="0.59" fill="#e6e6e6" fill-opacity="0.27"/>
<circle cx="352.4" cy="417.5" r="0.86" fill="#e6e6e6" fill-opacity="0.34"/>
<circle cx="381.8" cy="431.0" r="0.75" fill="#e6e6e6" fill-opacity="0.34"/>
<circle cx="392.9" cy="412.9" r="0.94" fill="#e6e6e6" fill-opacity="0.35"/>
<circle cx="345.0" cy="431.9" r="0.63" fill="#e6e6e6" fill-opacity="0.68"/>
<circle cx="362.5" cy="407.6" r="0.58" fill="#e6e6e6" fill-opacity="0.44"/>
<circle cx="373.4" cy="439.8" r="0.54" fill="#e6e6e6" fill-opacity="0.43"/>
<circle cx="344.4" cy="440.9" r="0.54" fill="#e6e6e6" fill-opacity="0.27"/>
<circle cx="334.6" cy="416.3" r="0.99" fill="#e6e6e6" fill-opacity="0.65"/>
<circle cx="377.7" cy="441.9" r="1.01" fill="#e6e6e6" fill-opacity="0.40"/>
<circle cx="342.7" cy="439.3" r="0.90" fill="#e6e6e6" fill-opacity="0.26"/>
<circle cx="373.3" cy="415.7" r="0.67" fill="#e6e6e6" fill-opacity="0.40"/>
</g>
<rect x="262.4" y="456.8" width="63.5" height="43.8" fill="#8a8b8d"/>
<g clip-path="url(#c262456)" filter="url(#soft)">
<circle cx="273.1" cy="456.9" r="0.94" fill="#555" fill-opacity="0.09"/>
<circle cx="323.1" cy="462.2" r="1.76" fill="#555" fill-opacity="0.07"/>
<circle cx="285.0" cy="492.8" r="1.59" fill="#555" fill-opacity="0.09"/>
<circle cx="265.5" cy="477.5" r="1.05" fill="#555" fill-opacity="0.14"/>
<circle cx="274.7" cy="472.8" r="1.68" fill="#555" fill-opacity="0.05"/>
<circle cx="288.5" cy="492.4" r="1.52" fill="#555" fill-opacity="0.05"/>
<circle cx="264.6" cy="459.5" r="1.70" fill="#555" fill-opacity="0.08"/>
<circle cx="309.9" cy="496.2" r="1.01" fill="#555" fill-opacity="0.08"/>
<circle cx="323.2" cy="483.8" r="0.91" fill="#555" fill-opacity="0.12"/>
<circle cx="282.5" cy="468.9" r="0.60" fill="#555" fill-opacity="0.13"/>
<circle cx="320.6" cy="484.6" r="1.73" fill="#555" fill-opacity="0.05"/>
<circle cx="277.3" cy="477.6" r="1.75" fill="#555" fill-opacity="0.15"/>
<circle cx="286.9" cy="467.8" r="1.12" fill="#555" fill-opacity="0.10"/>
<circle cx="321.3" cy="464.8" r="1.56" fill="#555" fill-opacity="0.12"/>
<circle cx="314.6" cy="490.6" r="1.33" fill="#555" fill-opacity="0.08"/>
<circle cx="282.7" cy="472.6" r="1.54" fill="#555" fill-opacity="0.06"/>
<circle cx="274.9" cy="489.8" r="0.90" fill="#555" fill-opacity="0.06"/>
<circle cx="264.6" cy="481.0" r="0.99" fill="#555" fill-opacity="0.15"/>
<circle cx="318.5" cy="500.1" r="0.92" fill="#555" fill-opacity="0.06"/>
<circle cx="268.5" cy="478.6" r="1.45" fill="#555" fill-opacity="0.09"/>
<circle cx="277.3" cy="475.1" r="1.34" fill="#555" fill-opacity="0.12"/>
<circle cx="309.9" cy="493.9" r="1.40" fill="#555" fill-opacity="0.06"/>
<circle cx="315.8" cy="469.7" r="1.28" fill="#555" fill-opacity="0.09"/>
<circle cx="309.3" cy="465.5" r="0.90" fill="#555" fill-opacity="0.07"/>
<circle cx="272.1" cy="495.5" r="1.29" fill="#555" fill-opacity="0.08"/>
<circle cx="287.6" cy="500.3" r="1.21" fill="#555" fill-opacity="0.07"/>
<circle cx="313.7" cy="485.4" r="1.79" fill="#555" fill-opacity="0.06"/>
<circle cx="292.5" cy="492.7" r="1.61" fill="#555" fill-opacity="0.14"/>
<circle cx="265.0" cy="469.7" r="0.74" fill="#555" fill-opacity="0.07"/>
<circle cx="324.2" cy="482.3" r="1.72" fill="#555" fill-opacity="0.09"/>
<circle cx="317.4" cy="476.5" r="0.91" fill="#555" fill-opacity="0.13"/>
<circle cx="322.5" cy="461.4" r="1.32" fill="#555" fill-opacity="0.11"/>
<circle cx="276.2" cy="472.9" r="0.77" fill="#555" fill-opacity="0.07"/>
<circle cx="278.6" cy="483.1" r="1.38" fill="#555" fill-opacity="0.07"/>
<circle cx="263.1" cy="471.1" r="1.41" fill="#555" fill-opacity="0.07"/>
<circle cx="282.2" cy="465.7" r="1.55" fill="#555" fill-opacity="0.10"/>
<circle cx="266.4" cy="461.2" r="1.07" fill="#555" fill-opacity="0.11"/>
<circle cx="303.0" cy="460.8" r="0.80" fill="#555" fill-opacity="0.12"/>
<circle cx="288.4" cy="469.2" r="0.97" fill="#555" fill-opacity="0.15"/>
<circle cx="282.2" cy="481.6" r="1.03" fill="#555" fill-opacity="0.09"/>
<circle cx="317.3" cy="500.5" r="1.04" fill="#555" fill-opacity="0.07"/>
<circle cx="308.6" cy="465.7" r="0.61" fill="#555" fill-opacity="0.14"/>
<circle cx="289.3" cy="492.7" r="1.09" fill="#555" fill-opacity="0.14"/>
<circle cx="291.7" cy="463.9" r="0.62" fill="#555" fill-opacity="0.11"/>
<circle cx="303.1" cy="496.6" r="0.71" fill="#555" fill-opacity="0.11"/>
<circle cx="285.9" cy="478.9" r="0.78" fill="#555" fill-opacity="0.08"/>
<circle cx="295.5" cy="497.3" r="0.73" fill="#555" fill-opacity="0.10"/>
<circle cx="313.5" cy="499.1" r="0.84" fill="#555" fill-opacity="0.06"/>
<circle cx="322.3" cy="499.5" r="1.18" fill="#555" fill-opacity="0.06"/>
<circle cx="321.2" cy="473.8" r="1.69" fill="#555" fill-opacity="0.11"/>
<circle cx="314.8" cy="463.8" r="1.54" fill="#555" fill-opacity="0.07"/>
<circle cx="288.1" cy="493.9" r="1.60" fill="#555" fill-opacity="0.07"/>
<circle cx="276.3" cy="474.3" r="1.22" fill="#555" fill-opacity="0.09"/>
<circle cx="270.2" cy="467.6" r="1.47" fill="#555" fill-opacity="0.14"/>
<circle cx="265.0" cy="481.4" r="1.51" fill="#555" fill-opacity="0.05"/>
<circle cx="315.6" cy="462.0" r="1.32" fill="#555" fill-opacity="0.11"/>
<circle cx="302.2" cy="470.2" r="1.10" fill="#555" fill-opacity="0.11"/>
<circle cx="289.4" cy="485.7" r="1.14" fill="#555" fill-opacity="0.09"/>
<circle cx="263.9" cy="483.9" r="1.19" fill="#555" fill-opacity="0.07"/>
<circle cx="310.9" cy="491.0" r="1.15" fill="#555" fill-opacity="0.07"/>
<circle cx="292.4" cy="461.5" r="0.53" fill="#e6e6e6" fill-opacity="0.44"/>
<circle cx="268.2" cy="476.2" r="0.76" fill="#e6e6e6" fill-opacity="0.27"/>
<circle cx="302.8" cy="460.4" r="0.89" fill="#e6e6e6" fill-opacity="0.60"/>
<circle cx="294.9" cy="459.2" r="0.75" fill="#e6e6e6" fill-opacity="0.42"/>
<circle cx="322.8" cy="462.8" r="0.96" fill="#e6e6e6" fill-opacity="0.70"/>
<circle cx="308.9" cy="492.5" r="0.57" fill="#e6e6e6" fill-opacity="0.69"/>
<circle cx="293.6" cy="498.7" r="1.00" fill="#e6e6e6" fill-opacity="0.32"/>
<circle cx="312.5" cy="497.6" r="0.49" fill="#e6e6e6" fill-opacity="0.41"/>
<circle cx="310.4" cy="463.8" r="0.99" fill="#e6e6e6" fill-opacity="0.37"/>
<circle cx="314.2" cy="463.1" r="0.75" fill="#e6e6e6" fill-opacity="0.66"/>
<circle cx="275.6" cy="468.3" r="0.75" fill="#e6e6e6" fill-opacity="0.39"/>
<circle cx="264.7" cy="464.8" r="0.55" fill="#e6e6e6" fill-opacity="0.67"/>
<circle cx="305.6" cy="496.0" r="0.55" fill="#e6e6e6" fill-opacity="0.60"/>
<circle cx="269.7" cy="480.0" r="0.83" fill="#e6e6e6" fill-opacity="0.41"/>
<circle cx="317.8" cy="481.1" r="0.80" fill="#e6e6e6" fill-opacity="0.65"/>
<circle cx="269.0" cy="500.3" r="0.83" fill="#e6e6e6" fill-opacity="0.43"/>
<circle cx="313.1" cy="468.4" r="1.04" fill="#e6e6e6" fill-opacity="0.51"/>
<circle cx="285.3" cy="490.3" r="0.72" fill="#e6e6e6" fill-opacity="0.33"/>
<circle cx="309.6" cy="458.9" r="0.94" fill="#e6e6e6" fill-opacity="0.36"/>
<circle cx="303.0" cy="499.9" r="0.80" fill="#e6e6e6" fill-opacity="0.55"/>
<circle cx="282.3" cy="456.9" r="0.47" fill="#e6e6e6" fill-opacity="0.32"/>
<circle cx="301.5" cy="475.7" r="0.76" fill="#e6e6e6" fill-opacity="0.65"/>
<circle cx="270.8" cy="466.8" r="0.84" fill="#e6e6e6" fill-opacity="0.26"/>
<circle cx="262.6" cy="472.3" r="0.51" fill="#e6e6e6" fill-opacity="0.41"/>
<circle cx="276.6" cy="482.4" r="0.80" fill="#e6e6e6" fill-opacity="0.34"/>
<circle cx="302.0" cy="477.6" r="0.53" fill="#e6e6e6" fill-opacity="0.67"/>
<circle cx="277.9" cy="463.3" r="0.51" fill="#e6e6e6" fill-opacity="0.54"/>
<circle cx="317.7" cy="491.1" r="0.69" fill="#e6e6e6" fill-opacity="0.37"/>
<circle cx="263.1" cy="485.0" r="0.79" fill="#e6e6e6" fill-opacity="0.41"/>
<circle cx="303.4" cy="476.2" r="1.01" fill="#e6e6e6" fill-opacity="0.58"/>
<circle cx="278.2" cy="496.4" r="0.48" fill="#e6e6e6" fill-opacity="0.49"/>
<circle cx="288.2" cy="467.2" r="0.49" fill="#e6e6e6" fill-opacity="0.60"/>
<circle cx="263.2" cy="480.9" r="1.01" fill="#e6e6e6" fill-opacity="0.31"/>
<circle cx="275.1" cy="483.4" r="0.75" fill="#e6e6e6" fill-opacity="0.54"/>
<circle cx="314.0" cy="464.4" r="0.64" fill="#e6e6e6" fill-opacity="0.39"/>
<circle cx="265.5" cy="495.8" r="0.92" fill="#e6e6e6" fill-opacity="0.57"/>
<circle cx="262.8" cy="493.8" r="0.90" fill="#e6e6e6" fill-opacity="0.46"/>
<circle cx="309.5" cy="476.6" r="0.59" fill="#e6e6e6" fill-opacity="0.30"/>
<circle cx="277.2" cy="458.5" r="0.65" fill="#e6e6e6" fill-opacity="0.59"/>
<circle cx="306.5" cy="493.8" r="0.88" fill="#e6e6e6" fill-opacity="0.37"/>
<circle cx="297.6" cy="475.9" r="0.92" fill="#e6e6e6" fill-opacity="0.49"/>
<circle cx="279.2" cy="484.9" r="1.03" fill="#e6e6e6" fill-opacity="0.35"/>
<circle cx="318.3" cy="457.5" r="0.61" fill="#e6e6e6" fill-opacity="0.36"/>
<circle cx="309.6" cy="498.2" r="0.90" fill="#e6e6e6" fill-opacity="0.40"/>
<circle cx="318.3" cy="471.2" r="0.59" fill="#e6e6e6" fill-opacity="0.66"/>
<circle cx="302.4" cy="487.1" r="0.85" fill="#e6e6e6" fill-opacity="0.69"/>
<circle cx="292.2" cy="493.6" r="0.87" fill="#e6e6e6" fill-opacity="0.64"/>
<circle cx="290.2" cy="488.5" r="0.79" fill="#e6e6e6" fill-opacity="0.39"/>
<circle cx="275.9" cy="484.1" r="0.50" fill="#e6e6e6" fill-opacity="0.66"/>
<circle cx="271.6" cy="458.0" r="0.51" fill="#e6e6e6" fill-opacity="0.67"/>
<circle cx="284.3" cy="463.0" r="0.47" fill="#e6e6e6" fill-opacity="0.27"/>
<circle cx="306.4" cy="484.6" r="0.87" fill="#e6e6e6" fill-opacity="0.58"/>
<circle cx="266.6" cy="482.7" r="0.67" fill="#e6e6e6" fill-opacity="0.62"/>
<circle cx="314.4" cy="495.8" r="0.49" fill="#e6e6e6" fill-opacity="0.64"/>
<circle cx="320.5" cy="498.2" r="0.51" fill="#e6e6e6" fill-opacity="0.34"/>
<circle cx="269.5" cy="458.3" r="0.96" fill="#e6e6e6" fill-opacity="0.62"/>
<circle cx="302.7" cy="492.9" r="0.83" fill="#e6e6e6" fill-opacity="0.38"/>
<circle cx="268.7" cy="461.1" r="0.90" fill="#e6e6e6" fill-opacity="0.34"/>
<circle cx="282.7" cy="475.4" r="0.46" fill="#e6e6e6" fill-opacity="0.37"/>
<circle cx="280.3" cy="488.2" r="0.67" fill="#e6e6e6" fill-opacity="0.39"/>
<circle cx="323.6" cy="478.9" r="0.96" fill="#e6e6e6" fill-opacity="0.53"/>
<circle cx="264.4" cy="474.9" r="0.71" fill="#e6e6e6" fill-opacity="0.60"/>
<circle cx="284.4" cy="487.7" r="0.77" fill="#e6e6e6" fill-opacity="0.35"/>
<circle cx="317.2" cy="460.8" r="0.94" fill="#e6e6e6" fill-opacity="0.33"/>
<circle cx="262.5" cy="465.6" r="0.91" fill="#e6e6e6" fill-opacity="0.69"/>
<circle cx="262.7" cy="478.3" r="0.74" fill="#e6e6e6" fill-opacity="0.61"/>
<circle cx="274.1" cy="478.5" r="0.66" fill="#e6e6e6" fill-opacity="0.62"/>
<circle cx="278.9" cy="498.1" r="0.62" fill="#e6e6e6" fill-opacity="0.35"/>
<circle cx="306.8" cy="478.6" r="0.52" fill="#e6e6e6" fill-opacity="0.54"/>
<circle cx="267.5" cy="491.3" r="0.87" fill="#e6e6e6" fill-opacity="0.60"/>
<circle cx="302.3" cy="472.4" r="0.69" fill="#e6e6e6" fill-opacity="0.43"/>
<circle cx="318.9" cy="460.6" r="0.98" fill="#e6e6e6" fill-opacity="0.26"/>
<circle cx="275.5" cy="468.3" r="0.99" fill="#e6e6e6" fill-opacity="0.48"/>
<circle cx="286.5" cy="495.5" r="0.59" fill="#e6e6e6" fill-opacity="0.46"/>
<circle cx="296.2" cy="489.8" r="0.90" fill="#e6e6e6" fill-opacity="0.54"/>
<circle cx="284.5" cy="471.1" r="0.54" fill="#e6e6e6" fill-opacity="0.63"/>
<circle cx="304.4" cy="489.3" r="0.55" fill="#e6e6e6" fill-opacity="0.45"/>
<circle cx="311.5" cy="482.2" r="0.53" fill="#e6e6e6" fill-opacity="0.46"/>
<circle cx="318.6" cy="467.2" r="0.56" fill="#e6e6e6" fill-opacity="0.39"/>
<circle cx="307.1" cy="493.8" r="0.54" fill="#e6e6e6" fill-opacity="0.32"/>
<circle cx="278.1" cy="471.1" r="0.76" fill="#e6e6e6" fill-opacity="0.32"/>
<circle cx="283.2" cy="465.1" r="1.04" fill="#e6e6e6" fill-opacity="0.58"/>
<circle cx="268.9" cy="499.0" r="0.51" fill="#e6e6e6" fill-opacity="0.42"/>
<circle cx="324.9" cy="491.6" r="0.89" fill="#e6e6e6" fill-opacity="0.45"/>
<circle cx="274.9" cy="484.7" r="0.51" fill="#e6e6e6" fill-opacity="0.34"/>
<circle cx="287.1" cy="458.3" r="0.69" fill="#e6e6e6" fill-opacity="0.61"/>
<circle cx="306.4" cy="478.7" r="0.83" fill="#e6e6e6" fill-opacity="0.46"/>
<circle cx="271.4" cy="483.2" r="0.69" fill="#e6e6e6" fill-opacity="0.58"/>
<circle cx="320.1" cy="475.6" r="0.79" fill="#e6e6e6" fill-opacity="0.59"/>
<circle cx="289.1" cy="466.8" r="0.88" fill="#e6e6e6" fill-opacity="0.65"/>
</g>
<rect x="332.0" y="456.8" width="62.8" height="44.1" fill="#8a8b8e"/>
<g clip-path="url(#c332456)" filter="url(#soft)">
<circle cx="380.6" cy="487.7" r="1.62" fill="#555" fill-opacity="0.12"/>
<circle cx="372.3" cy="476.8" r="0.98" fill="#555" fill-opacity="0.11"/>
<circle cx="338.1" cy="475.3" r="1.54" fill="#555" fill-opacity="0.12"/>
<circle cx="371.5" cy="467.8" r="1.11" fill="#555" fill-opacity="0.10"/>
<circle cx="371.0" cy="474.9" r="1.41" fill="#555" fill-opacity="0.14"/>
<circle cx="343.5" cy="485.7" r="1.53" fill="#555" fill-opacity="0.09"/>
<circle cx="362.8" cy="499.8" r="0.65" fill="#555" fill-opacity="0.10"/>
<circle cx="342.1" cy="491.3" r="1.73" fill="#555" fill-opacity="0.10"/>
<circle cx="338.3" cy="482.1" r="1.25" fill="#555" fill-opacity="0.12"/>
<circle cx="364.2" cy="485.0" r="1.59" fill="#555" fill-opacity="0.10"/>
<circle cx="357.8" cy="498.6" r="0.85" fill="#555" fill-opacity="0.12"/>
<circle cx="356.6" cy="490.4" r="0.75" fill="#555" fill-opacity="0.15"/>
<circle cx="354.3" cy="459.3" r="0.93" fill="#555" fill-opacity="0.09"/>
<circle cx="332.8" cy="475.3" r="1.10" fill="#555" fill-opacity="0.12"/>
<circle cx="354.1" cy="468.5" r="0.87" fill="#555" fill-opacity="0.12"/>
<circle cx="391.0" cy="480.0" r="0.86" fill="#555" fill-opacity="0.13"/>
<circle cx="356.6" cy="466.1" r="0.76" fill="#555" fill-opacity="0.13"/>
<circle cx="382.8" cy="484.8" r="1.16" fill="#555" fill-opacity="0.11"/>
<circle cx="346.2" cy="499.3" r="1.02" fill="#555" fill-opacity="0.11"/>
<circle cx="383.4" cy="492.8" r="1.16" fill="#555" fill-opacity="0.08"/>
<circle cx="366.4" cy="462.3" r="1.60" fill="#555" fill-opacity="0.09"/>
<circle cx="385.4" cy="468.6" r="1.05" fill="#555" fill-opacity="0.08"/>
<circle cx="358.8" cy="465.0" r="0.60" fill="#555" fill-opacity="0.12"/>
<circle cx="349.7" cy="467.6" r="0.96" fill="#555" fill-opacity="0.10"/>
<circle cx="358.9" cy="484.9" r="1.39" fill="#555" fill-opacity="0.09"/>
<circle cx="390.3" cy="494.5" r="0.67" fill="#555" fill-opacity="0.13"/>
<circle cx="388.9" cy="491.4" r="0.77" fill="#555" fill-opacity="0.13"/>
<circle cx="371.8" cy="457.5" r="0.61" fill="#555" fill-opacity="0.15"/>
<circle cx="373.2" cy="467.8" r="0.72" fill="#555" fill-opacity="0.06"/>
<circle cx="346.7" cy="491.0" r="1.02" fill="#555" fill-opacity="0.07"/>
<circle cx="388.8" cy="491.7" r="0.80" fill="#555" fill-opacity="0.14"/>
<circle cx="370.2" cy="491.3" r="1.40" fill="#555" fill-opacity="0.14"/>
<circle cx="381.5" cy="493.8" r="0.84" fill="#555" fill-opacity="0.12"/>
<circle cx="365.3" cy="489.5" r="1.13" fill="#555" fill-opacity="0.14"/>
<circle cx="366.9" cy="468.5" r="0.88" fill="#555" fill-opacity="0.06"/>
<circle cx="363.0" cy="459.4" r="1.16" fill="#555" fill-opacity="0.06"/>
<circle cx="362.9" cy="478.8" r="1.25" fill="#555" fill-opacity="0.14"/>
<circle cx="332.4" cy="493.9" r="1.16" fill="#555" fill-opacity="0.11"/>
<circle cx="373.8" cy="493.9" r="1.05" fill="#555" fill-opacity="0.09"/>
<circle cx="392.3" cy="460.1" r="1.36" fill="#555" fill-opacity="0.11"/>
<circle cx="333.8" cy="483.7" r="1.42" fill="#555" fill-opacity="0.14"/>
<circle cx="352.8" cy="500.1" r="1.21" fill="#555" fill-opacity="0.10"/>
<circle cx="388.4" cy="458.3" r="1.46" fill="#555" fill-opacity="0.11"/>
<circle cx="353.3" cy="494.8" r="1.04" fill="#555" fill-opacity="0.10"/>
<circle cx="365.0" cy="490.8" r="0.85" fill="#555" fill-opacity="0.09"/>
<circle cx="358.5" cy="481.2" r="1.59" fill="#555" fill-opacity="0.08"/>
<circle cx="384.0" cy="474.6" r="1.20" fill="#555" fill-opacity="0.08"/>
<circle cx="363.8" cy="499.8" r="1.39" fill="#555" fill-opacity="0.13"/>
<circle cx="352.8" cy="470.8" r="0.96" fill="#555" fill-opacity="0.11"/>
<circle cx="371.9" cy="491.4" r="0.65" fill="#555" fill-opacity="0.12"/>
<circle cx="387.6" cy="480.9" r="0.66" fill="#555" fill-opacity="0.08"/>
<circle cx="332.4" cy="465.2" r="1.71" fill="#555" fill-opacity="0.11"/>
<circle cx="373.3" cy="491.6" r="1.69" fill="#555" fill-opacity="0.11"/>
<circle cx="370.7" cy="484.4" r="1.44" fill="#555" fill-opacity="0.11"/>
<circle cx="374.8" cy="466.2" r="1.40" fill="#555" fill-opacity="0.10"/>
<circle cx="379.9" cy="461.3" r="0.82" fill="#555" fill-opacity="0.05"/>
<circle cx="380.6" cy="497.1" r="1.39" fill="#555" fill-opacity="0.09"/>
<circle cx="383.7" cy="491.5" r="1.27" fill="#555" fill-opacity="0.08"/>
<circle cx="351.0" cy="475.4" r="0.98" fill="#555" fill-opacity="0.09"/>
<circle cx="372.3" cy="498.0" r="0.67" fill="#555" fill-opacity="0.11"/>
<circle cx="334.5" cy="462.0" r="0.94" fill="#e6e6e6" fill-opacity="0.51"/>
<circle cx="389.7" cy="476.5" r="0.46" fill="#e6e6e6" fill-opacity="0.42"/>
<circle cx="369.2" cy="498.2" r="1.04" fill="#e6e6e6" fill-opacity="0.46"/>
<circle cx="357.9" cy="461.3" r="0.84" fill="#e6e6e6" fill-opacity="0.35"/>
<circle cx="341.5" cy="457.5" r="0.45" fill="#e6e6e6" fill-opacity="0.56"/>
<circle cx="339.6" cy="499.4" r="0.50" fill="#e6e6e6" fill-opacity="0.64"/>
<circle cx="340.1" cy="457.6" r="0.88" fill="#e6e6e6" fill-opacity="0.36"/>
<circle cx="378.1" cy="465.1" r="0.48" fill="#e6e6e6" fill-opacity="0.60"/>
<circle cx="376.8" cy="494.5" r="0.89" fill="#e6e6e6" fill-opacity="0.29"/>
<circle cx="371.5" cy="488.1" r="0.73" fill="#e6e6e6" fill-opacity="0.67"/>
<circle cx="348.0" cy="499.3" r="0.88" fill="#e6e6e6" fill-opacity="0.26"/>
<circle cx="332.9" cy="485.5" r="0.94" fill="#e6e6e6" fill-opacity="0.29"/>
<circle cx="351.5" cy="489.0" r="0.55" fill="#e6e6e6" fill-opacity="0.64"/>
<circle cx="362.5" cy="459.4" r="0.67" fill="#e6e6e6" fill-opacity="0.51"/>
<circle cx="359.6" cy="486.7" r="0.54" fill="#e6e6e6" fill-opacity="0.61"/>
<circle cx="354.8" cy="485.2" r="0.83" fill="#e6e6e6" fill-opacity="0.44"/>
<circle cx="356.2" cy="491.5" r="1.02" fill="#e6e6e6" fill-opacity="0.60"/>
<circle cx="367.6" cy="469.7" r="0.49" fill="#e6e6e6" fill-opacity="0.69"/>
<circle cx="376.2" cy="493.3" r="0.65" fill="#e6e6e6" fill-opacity="0.52"/>
<circle cx="393.4" cy="493.5" r="0.81" fill="#e6e6e6" fill-opacity="0.39"/>
<circle cx="358.9" cy="496.0" r="0.68" fill="#e6e6e6" fill-opacity="0.56"/>
<circle cx="369.8" cy="496.3" r="0.93" fill="#e6e6e6" fill-opacity="0.38"/>
<circle cx="332.1" cy="468.4" r="0.70" fill="#e6e6e6" fill-opacity="0.51"/>
<circle cx="383.2" cy="495.9" r="0.48" fill="#e6e6e6" fill-opacity="0.62"/>
<circle cx="383.0" cy="495.0" r="0.79" fill="#e6e6e6" fill-opacity="0.37"/>
<circle cx="385.5" cy="492.4" r="0.86" fill="#e6e6e6" fill-opacity="0.66"/>
<circle cx="353.8" cy="460.6" r="0.78" fill="#e6e6e6" fill-opacity="0.61"/>
<circle cx="344.6" cy="489.9" r="1.01" fill="#e6e6e6" fill-opacity="0.36"/>
<circle cx="370.1" cy="486.7" r="0.73" fill="#e6e6e6" fill-opacity="0.34"/>
<circle cx="348.0" cy="489.9" r="0.92" fill="#e6e6e6" fill-opacity="0.46"/>
<circle cx="337.5" cy="492.4" r="0.91" fill="#e6e6e6" fill-opacity="0.35"/>
<circle cx="368.4" cy="496.4" r="0.98" fill="#e6e6e6" fill-opacity="0.48"/>
<circle cx="361.9" cy="482.8" r="0.56" fill="#e6e6e6" fill-opacity="0.34"/>
<circle cx="343.3" cy="487.7" r="0.67" fill="#e6e6e6" fill-opacity="0.50"/>
<circle cx="357.3" cy="479.6" r="0.54" fill="#e6e6e6" fill-opacity="0.27"/>
<circle cx="394.6" cy="473.3" r="0.51" fill="#e6e6e6" fill-opacity="0.53"/>
<circle cx="381.4" cy="463.7" r="0.81" fill="#e6e6e6" fill-opacity="0.41"/>
<circle cx="364.6" cy="457.7" r="0.47" fill="#e6e6e6" fill-opacity="0.70"/>
<circle cx="386.4" cy="478.2" r="0.79" fill="#e6e6e6" fill-opacity="0.37"/>
<circle cx="380.9" cy="475.6" r="1.02" fill="#e6e6e6" fill-opacity="0.60"/>
<circle cx="383.4" cy="499.3" r="0.60" fill="#e6e6e6" fill-opacity="0.27"/>
<circle cx="344.6" cy="464.8" r="0.50" fill="#e6e6e6" fill-opacity="0.27"/>
<circle cx="367.0" cy="495.2" r="0.72" fill="#e6e6e6" fill-opacity="0.68"/>
<circle cx="389.1" cy="459.6" r="0.81" fill="#e6e6e6" fill-opacity="0.43"/>
<circle cx="339.5" cy="499.1" r="0.60" fill="#e6e6e6" fill-opacity="0.50"/>
<circle cx="372.2" cy="499.0" r="0.85" fill="#e6e6e6" fill-opacity="0.43"/>
<circle cx="360.2" cy="463.8" r="1.03" fill="#e6e6e6" fill-opacity="0.70"/>
<circle cx="345.9" cy="458.5" r="0.60" fill="#e6e6e6" fill-opacity="0.41"/>
<circle cx="388.7" cy="496.7" r="0.95" fill="#e6e6e6" fill-opacity="0.27"/>
<circle cx="381.4" cy="488.1" r="0.84" fill="#e6e6e6" fill-opacity="0.69"/>
<circle cx="335.5" cy="463.2" r="0.90" fill="#e6e6e6" fill-opacity="0.67"/>
<circle cx="374.5" cy="470.0" r="0.80" fill="#e6e6e6" fill-opacity="0.59"/>
<circle cx="338.6" cy="471.1" r="0.60" fill="#e6e6e6" fill-opacity="0.31"/>
<circle cx="362.2" cy="464.2" r="0.59" fill="#e6e6e6" fill-opacity="0.31"/>
<circle cx="374.6" cy="457.4" r="0.88" fill="#e6e6e6" fill-opacity="0.34"/>
<circle cx="334.3" cy="497.7" r="0.58" fill="#e6e6e6" fill-opacity="0.67"/>
<circle cx="386.4" cy="496.0" r="0.53" fill="#e6e6e6" fill-opacity="0.45"/>
<circle cx="338.1" cy="497.8" r="0.96" fill="#e6e6e6" fill-opacity="0.53"/>
<circle cx="360.4" cy="471.8" r="0.94" fill="#e6e6e6" fill-opacity="0.46"/>
<circle cx="371.4" cy="463.1" r="0.58" fill="#e6e6e6" fill-opacity="0.28"/>
<circle cx="376.8" cy="481.2" r="0.54" fill="#e6e6e6" fill-opacity="0.64"/>
<circle cx="348.7" cy="475.0" r="0.54" fill="#e6e6e6" fill-opacity="0.37"/>
<circle cx="384.7" cy="471.6" r="0.55" fill="#e6e6e6" fill-opacity="0.47"/>
<circle cx="352.0" cy="496.6" r="0.52" fill="#e6e6e6" fill-opacity="0.69"/>
<circle cx="335.6" cy="496.3" r="0.85" fill="#e6e6e6" fill-opacity="0.35"/>
<circle cx="362.0" cy="469.4" r="0.60" fill="#e6e6e6" fill-opacity="0.34"/>
<circle cx="354.9" cy="500.5" r="1.05" fill="#e6e6e6" fill-opacity="0.67"/>
<circle cx="338.1" cy="469.6" r="0.99" fill="#e6e6e6" fill-opacity="0.28"/>
<circle cx="377.6" cy="469.7" r="1.04" fill="#e6e6e6" fill-opacity="0.26"/>
<circle cx="382.7" cy="471.8" r="0.53" fill="#e6e6e6" fill-opacity="0.25"/>
<circle cx="384.3" cy="480.0" r="0.56" fill="#e6e6e6" fill-opacity="0.45"/>
<circle cx="389.3" cy="466.4" r="0.79" fill="#e6e6e6" fill-opacity="0.31"/>
<circle cx="343.3" cy="490.8" r="0.88" fill="#e6e6e6" fill-opacity="0.34"/>
<circle cx="337.0" cy="460.7" r="0.82" fill="#e6e6e6" fill-opacity="0.47"/>
<circle cx="349.2" cy="465.9" r="0.82" fill="#e6e6e6" fill-opacity="0.57"/>
<circle cx="383.0" cy="482.5" r="0.57" fill="#e6e6e6" fill-opacity="0.28"/>
<circle cx="378.0" cy="474.8" r="0.88" fill="#e6e6e6" fill-opacity="0.27"/>
<circle cx="382.9" cy="471.6" r="0.96" fill="#e6e6e6" fill-opacity="0.64"/>
<circle cx="363.0" cy="457.5" r="1.00" fill="#e6e6e6" fill-opacity="0.46"/>
<circle cx="386.8" cy="468.5" r="0.56" fill="#e6e6e6" fill-opacity="0.62"/>
<circle cx="355.1" cy="464.0" r="0.67" fill="#e6e6e6" fill-opacity="0.52"/>
<circle cx="332.3" cy="479.7" r="0.72" fill="#e6e6e6" fill-opacity="0.48"/>
<circle cx="339.6" cy="488.3" r="0.94" fill="#e6e6e6" fill-opacity="0.64"/>
<circle cx="352.2" cy="488.2" r="0.68" fill="#e6e6e6" fill-opacity="0.59"/>
<circle cx="335.8" cy="495.3" r="1.02" fill="#e6e6e6" fill-opacity="0.47"/>
<circle cx="364.2" cy="480.2" r="0.77" fill="#e6e6e6" fill-opacity="0.26"/>
<circle cx="392.8" cy="466.7" r="0.56" fill="#e6e6e6" fill-opacity="0.30"/>
<circle cx="347.7" cy="492.8" r="0.47" fill="#e6e6e6" fill-opacity="0.29"/>
<circle cx="375.9" cy="465.4" r="0.46" fill="#e6e6e6" fill-opacity="0.52"/>
<circle cx="368.2" cy="479.9" r="0.87" fill="#e6e6e6" fill-opacity="0.30"/>
<circle cx="386.6" cy="488.4" r="0.48" fill="#e6e6e6" fill-opacity="0.31"/>
<circle cx="363.0" cy="478.9" r="0.62" fill="#e6e6e6" fill-opacity="0.30"/>
<circle cx="357.5" cy="462.8" r="0.81" fill="#e6e6e6" fill-opacity="0.64"/>
<circle cx="341.2" cy="482.1" r="0.90" fill="#e6e6e6" fill-opacity="0.32"/>
<circle cx="383.9" cy="498.1" r="0.68" fill="#e6e6e6" fill-opacity="0.44"/>
<circle cx="384.7" cy="480.0" r="0.69" fill="#e6e6e6" fill-opacity="0.67"/>
<circle cx="380.8" cy="471.7" r="0.59" fill="#e6e6e6" fill-opacity="0.40"/>
<circle cx="359.4" cy="500.1" r="0.93" fill="#e6e6e6" fill-opacity="0.66"/>
<circle cx="383.2" cy="494.2" r="0.48" fill="#e6e6e6" fill-opacity="0.48"/>
<circle cx="392.2" cy="498.0" r="0.60" fill="#e6e6e6" fill-opacity="0.44"/>
<circle cx="371.7" cy="472.9" r="0.77" fill="#e6e6e6" fill-opacity="0.28"/>
<circle cx="359.2" cy="479.1" r="0.46" fill="#e6e6e6" fill-opacity="0.31"/>
<circle cx="392.9" cy="491.0" r="1.01" fill="#e6e6e6" fill-opacity="0.53"/>
<circle cx="382.8" cy="495.8" r="0.98" fill="#e6e6e6" fill-opacity="0.27"/>
<circle cx="372.3" cy="468.5" r="0.86" fill="#e6e6e6" fill-opacity="0.37"/>
<circle cx="366.1" cy="497.6" r="0.82" fill="#e6e6e6" fill-opacity="0.36"/>
<circle cx="364.7" cy="475.9" r="1.02" fill="#e6e6e6" fill-opacity="0.38"/>
<circle cx="351.2" cy="485.4" r="0.52" fill="#e6e6e6" fill-opacity="0.52"/>
<circle cx="392.0" cy="479.5" r="0.61" fill="#e6e6e6" fill-opacity="0.46"/>
<circle cx="365.5" cy="463.3" r="0.52" fill="#e6e6e6" fill-opacity="0.31"/>
</g>
<rect x="262.4" y="446.3" width="15.5" height="1.4" fill="#111" stroke="none" stroke-width="1"/>
<rect x="265.0" y="446.5" width="2" height="1.0" fill="#fff" stroke="none" stroke-width="1"/>
<rect x="269.5" y="446.5" width="2" height="1.0" fill="#fff" stroke="none" stroke-width="1"/>
<rect x="274.0" y="446.5" width="2" height="1.0" fill="#fff" stroke="none" stroke-width="1"/>
<text x="270" y="451.2" font-size="2.6" text-anchor="middle" font-weight="normal" fill="#555" stroke="#555" stroke-width="0.12" >100 &#956;m</text>
<text x="280.2" y="450.4" font-size="7.8" text-anchor="start" font-weight="normal" fill="#222" stroke="#222" stroke-width="0.12" >Untreated</text>
<text x="363.1" y="451.0" font-size="7.8" text-anchor="middle" font-weight="normal" fill="#222" stroke="#222" stroke-width="0.12" >Met</text>
<text x="295.4" y="513.9" font-size="7.8" text-anchor="middle" font-weight="normal" fill="#222" stroke="#222" stroke-width="0.12" >CA</text>
<text x="362.8" y="513.9" font-size="7.8" text-anchor="middle" font-weight="normal" fill="#222" stroke="#222" stroke-width="0.12" >CA + Met</text>
<text x="233.7" y="545.3" font-size="10" text-anchor="middle" font-weight="bold" fill="#222" >F</text>
</svg>
</body></html>
